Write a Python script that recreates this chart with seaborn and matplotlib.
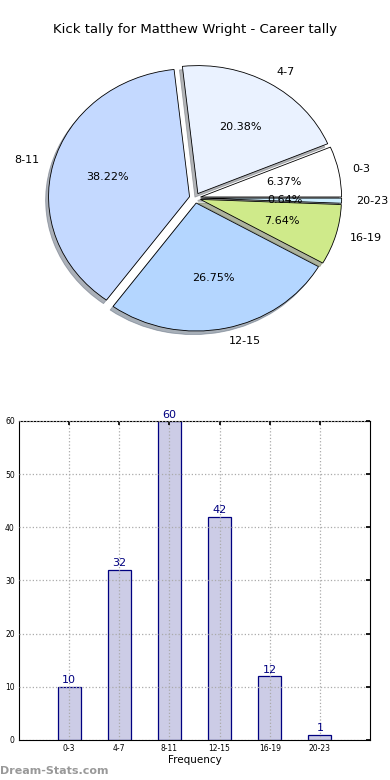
import matplotlib
matplotlib.use("Agg")
import matplotlib.pyplot as plt
import seaborn as sns
import pandas as pd

# Data
categories = ["0-3", "4-7", "8-11", "12-15", "16-19", "20-23"]
counts = [10, 32, 60, 42, 12, 1]
pie_colors = ["#FFFFFF", "#EAF2FF", "#C4D9FF", "#B4D6FF", "#CFEA8A", "#CCEEFF"]
explode = [0.04] * len(counts)

sns.set_theme(style="white")
plt.rcParams["font.family"] = ["DejaVu Sans"]
plt.rcParams["text.color"] = "black"
plt.rcParams["xtick.color"] = "black"
plt.rcParams["ytick.color"] = "black"
plt.rcParams["axes.labelcolor"] = "black"

fig = plt.figure(figsize=(3.9, 7.8), dpi=100)

# Pie (slightly squashed, like the original)
fig.text(0.5, 0.962, "Kick tally for Matthew Wright - Career tally",
         ha="center", va="center", fontsize=9.5)
ax1 = fig.add_axes([0, 0.5, 1, 0.5])
wedges, texts, autotexts = ax1.pie(
    counts, labels=categories, colors=pie_colors, explode=explode,
    autopct="%.2f%%", startangle=0,
    shadow={"ox": -0.015, "oy": -0.02, "shade": 0.55},
    wedgeprops=dict(edgecolor="black", linewidth=0.6),
    textprops=dict(fontsize=8, color="black"))
ax1.set_aspect("auto")
ax1.set_xlim(-1.383, 1.383)
ax1.set_ylim(-1.5, 1.547)
ax1.axis("off")

# Bars
df = pd.DataFrame({"Range": categories, "Count": counts})
ax2 = fig.add_axes([0.0487, 0.0513, 0.9, 0.409])
sns.barplot(data=df, x="Range", y="Count", ax=ax2, width=0.46,
            color="#CCCCE6", edgecolor="#000080", linewidth=0.9,
            saturation=1)
ax2.bar_label(ax2.containers[0], color="#000080", fontsize=8, padding=1)
ax2.set_xlim(-1, 6)
ax2.set_ylim(0, 60)
ax2.set_yticks(range(0, 61, 10))
ax2.set_xlabel("Frequency", fontsize=7.5, labelpad=1)
ax2.set_ylabel("")
ax2.tick_params(axis="both", labelsize=5.5, direction="in", length=3,
                top=True, right=True, pad=3)
ax2.grid(True, linestyle=":", color="#AAAAAA", linewidth=0.9)
ax2.set_axisbelow(False)
for s in ax2.spines.values():
    s.set_color("black")
    s.set_linewidth(0.8)

fig.text(0.0, 0.012, "Dream-Stats.com", ha="left", va="center",
         fontsize=8, color="#999999", fontweight="bold")

fig.savefig("out.png", dpi=100)
